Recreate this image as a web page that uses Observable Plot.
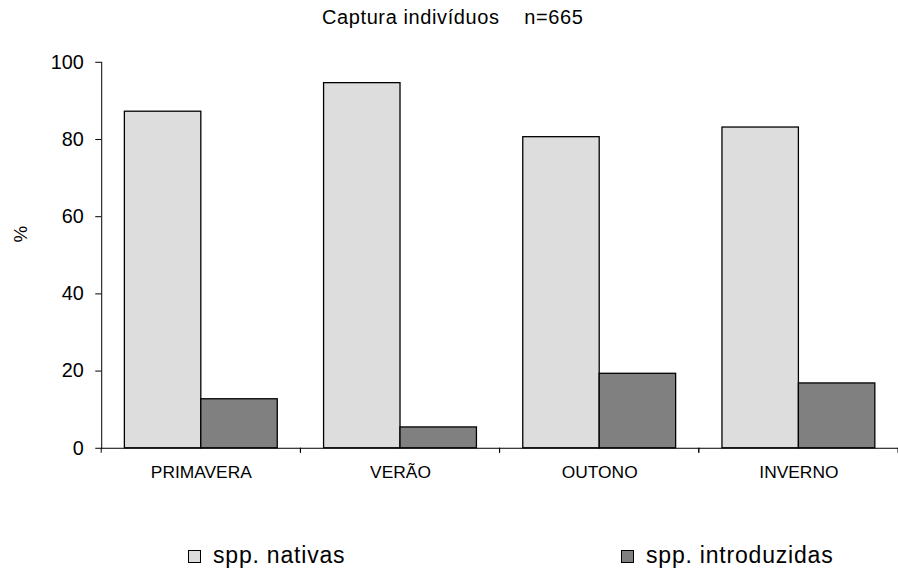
<!DOCTYPE html>
<html>
<head>
<meta charset="utf-8">
<script src="https://cdn.jsdelivr.net/npm/d3@7"></script>
<script src="https://cdn.jsdelivr.net/npm/@observablehq/plot@0.6"></script>
<style>
  html, body { margin: 0; padding: 0; background: #fff; }
  #wrap { position: relative; width: 898px; height: 575px; overflow: hidden; background: #fff;
          font-family: "Liberation Sans", Arial, sans-serif; color: #000; }
  #title { position: absolute; left: 322px; top: 6px; font-size: 20px; letter-spacing: 0.6px; white-space: pre; }
  #chart { position: absolute; left: 0; top: 36px; }
  .leg { position: absolute; top: 540px; font-size: 23px; letter-spacing: 0.8px; white-space: pre; line-height: 30px; }
  .sw { position: absolute; top: 10px; width: 11px; height: 11px; border: 1px solid #000; }
</style>
</head>
<body>
<div id="wrap">
  <div id="title"></div>
  <div id="chart"></div>
  <div id="legend"></div>
</div>
<script>
const titleText = "Captura indivíduos    n=665";
const yLabel = "%";
const seasons = ["PRIMAVERA", "VERÃO", "OUTONO", "INVERNO"];
const seriesNames = ["spp. nativas", "spp. introduzidas"];
const nativas = [87.2, 94.6, 80.6, 83.1];
const introduzidas = [12.7, 5.4, 19.3, 16.8];
const yTicks = [0, 20, 40, 60, 80, 100];
const seriesColors = ["#dddddd", "#808080"];

const data = [];
seasons.forEach((s, i) => {
  data.push({season: s, series: seriesNames[0], value: nativas[i]});
  data.push({season: s, series: seriesNames[1], value: introduzidas[i]});
});

document.getElementById("title").textContent = titleText;

// small tick marks at the category band boundaries, drawn from Plot's own scales
function boundaryTicks(index, scales) {
  const g = d3.create("svg:g");
  const x = scales.x;
  const y0 = scales.y(0);
  const [a, b] = x.range();
  g.selectAll("line").data([a, b]).join("line")
    .attr("x1", d => d).attr("x2", d => d)
    .attr("y1", y0).attr("y2", y0 + 5)
    .attr("stroke", "black");
  return g.node();
}

const chart = Plot.plot({
  width: 905,
  height: 480,
  marginTop: 26,
  marginBottom: 65,
  marginLeft: 102,
  marginRight: 0,
  style: {fontFamily: "Liberation Sans, Arial, sans-serif", fontSize: "17px", color: "black", background: "white", overflow: "visible"},
  fx: {domain: seasons, padding: 0, round: false, label: null, axis: null},
  x: {domain: seriesNames, paddingInner: 0, paddingOuter: 0.303, round: false, axis: null},
  y: {domain: [0, 100], axis: null},
  color: {domain: seriesNames, range: seriesColors},
  marks: [
    Plot.barY(data, {fx: "season", x: "series", y: "value", fill: "series", stroke: "black", strokeWidth: 1.3}),
    Plot.ruleY([0], {stroke: "black"}),
    Plot.frame({anchor: "left", facetAnchor: "left", stroke: "black"}),
    Plot.axisY({ticks: yTicks, tickSize: 6, tickPadding: 12, fontSize: 20, label: null, stroke: "black"}),
    Plot.axisFx({anchor: "bottom", tickSize: 0, tickPadding: 18, fontSize: 17.5, label: null}),
    Plot.text([yLabel], {frameAnchor: "left", facetAnchor: "left", rotate: -90, dx: -81, dy: -13, fontSize: 19}),
    boundaryTicks
  ]
});
document.getElementById("chart").appendChild(chart);

const legend = document.getElementById("legend");
const legPos = [188, 621];
seriesNames.forEach((name, i) => {
  const item = document.createElement("div");
  item.className = "leg";
  item.style.left = legPos[i] + "px";
  item.style.paddingLeft = "25px";
  const sw = document.createElement("span");
  sw.className = "sw";
  sw.style.left = "0px";
  sw.style.background = seriesColors[i];
  item.appendChild(sw);
  item.appendChild(document.createTextNode(name));
  legend.appendChild(item);
});
</script>
</body>
</html>
